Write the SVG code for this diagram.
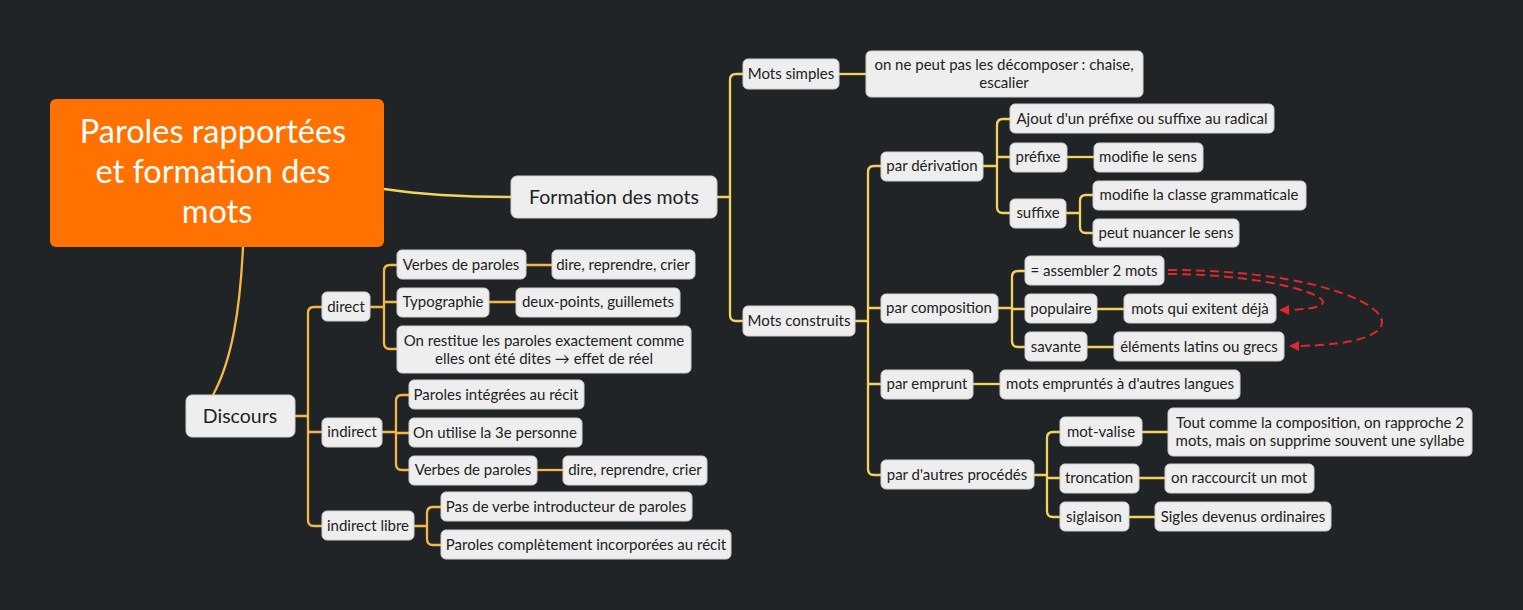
<svg xmlns="http://www.w3.org/2000/svg" width="1523" height="610" viewBox="0 0 1523 610">
<style>
.bg{fill:#202427}
.n{fill:#eeeeee;stroke:#cfcfcf;stroke-width:1}
.t{font-family:Lato,"Open Sans",sans-serif;font-size:15px;fill:#222;text-anchor:middle}
.tb{font-family:Lato,"Open Sans",sans-serif;font-size:19.5px;fill:#222;text-anchor:middle}
.tr{font-family:Lato,"Open Sans",sans-serif;font-size:32.5px;fill:#fff;text-anchor:middle}
.y{fill:none;stroke:#f3d35c;stroke-width:2.3}
.o{fill:none;stroke:#f4b748;stroke-width:2.3}
.d{fill:none;stroke:#e0282a;stroke-width:2;stroke-dasharray:9 5}
</style>
<defs>
<marker id="ah" viewBox="0 0 10 10" refX="9" refY="5" markerWidth="5" markerHeight="5" orient="auto"><path d="M0,0 L10,5 L0,10 z" fill="#e0282a"/></marker>
</defs>
<rect class="bg" x="0" y="0" width="1523" height="610"/>
<g id="connectors">
<path class="y" d="M384,189 C430,196 470,197 511,197"/>
<path class="o" d="M243,247 C240,310 232,360 213,395"/>
<path class="y" d="M717,197 H730 M743,74 H736 Q730,74 730,80 V315 Q730,321 736,321 H743"/>
<path class="y" d="M839,74 H866"/>
<path class="y" d="M855,321 H868 M881,166 H874 Q868,166 868,172 V469 Q868,475 874,475 H881 M868,308 H881 M868,384 H881"/>
<path class="y" d="M983,166 H997 M1010,119 H1003 Q997,119 997,125 V207 Q997,213 1003,213 H1010 M997,157 H1010"/>
<path class="y" d="M1067,157 H1094"/>
<path class="y" d="M1066,213 H1080 M1093,195 H1086 Q1080,195 1080,201 V227 Q1080,233 1086,233 H1093"/>
<path class="y" d="M998,308 H1012 M1025,271 H1018 Q1012,271 1012,277 V341 Q1012,347 1018,347 H1025 M1012,309 H1025"/>
<path class="y" d="M1097,309 H1124 M1087,347 H1114"/>
<path class="y" d="M973,384 H1000"/>
<path class="y" d="M1034,475 H1047 M1060,432 H1053 Q1047,432 1047,438 V511 Q1047,517 1053,517 H1060 M1047,478 H1060"/>
<path class="y" d="M1142,432 H1168 M1139,478 H1165 M1129,517 H1155"/>
<path class="o" d="M295,416 H308 M322,307 H314 Q308,307 308,313 V520 Q308,526 314,526 H322 M308,432 H322"/>
<path class="o" d="M370,307 H384 M397,265 H390 Q384,265 384,271 V343 Q384,349 390,349 H397 M384,302 H397"/>
<path class="o" d="M526,265 H552 M489,302 H516"/>
<path class="o" d="M382,432 H396 M409,395 H402 Q396,395 396,401 V464 Q396,470 402,470 H409 M396,433 H409"/>
<path class="o" d="M537,470 H563"/>
<path class="o" d="M414,526 H427 M441,507 H433 Q427,507 427,513 V539 Q427,545 433,545 H441"/>
<path class="d" marker-end="url(#ah)" d="M1168,274 C1290,274 1380,310 1280,310"/>
<path class="d" marker-end="url(#ah)" d="M1168,270 C1380,270 1460,346 1290,346"/>
</g>
<g id="root"><rect x="50" y="99" width="334" height="148" rx="6" fill="#ff7100"/>
<text class="tr" x="213" y="143">Paroles rapportées</text><text class="tr" x="213" y="183">et formation des</text><text class="tr" x="217" y="223">mots</text></g>
<g id="formation"><rect class="n" x="511" y="176" width="206" height="42" rx="6"/><text class="tb" x="614" y="204">Formation des mots</text></g>
<g id="discours"><rect class="n" x="186" y="395" width="109" height="42" rx="6"/><text class="tb" x="240" y="423">Discours</text></g>
<g id="mots-simples"><rect class="n" x="743" y="59" width="96" height="30" rx="5"/><text class="t" x="791" y="79">Mots simples</text></g>
<g id="decomposer"><rect class="n" x="866" y="51" width="277" height="46" rx="5"/><text class="t" x="1004" y="70">on ne peut pas les décomposer : chaise,</text><text class="t" x="1004" y="88">escalier</text></g>
<g id="mots-construits"><rect class="n" x="743" y="306" width="112" height="30" rx="5"/><text class="t" x="799" y="326">Mots construits</text></g>
<g id="derivation"><rect class="n" x="881" y="152" width="102" height="29" rx="5"/><text class="t" x="932" y="171">par dérivation</text></g>
<g id="ajout"><rect class="n" x="1010" y="104" width="264" height="29" rx="5"/><text class="t" x="1142" y="124">Ajout d'un préfixe ou suffixe au radical</text></g>
<g id="prefixe"><rect class="n" x="1010" y="143" width="57" height="29" rx="5"/><text class="t" x="1038" y="162">préfixe</text></g>
<g id="modifie-sens"><rect class="n" x="1094" y="143" width="109" height="29" rx="5"/><text class="t" x="1148" y="162">modifie le sens</text></g>
<g id="suffixe"><rect class="n" x="1010" y="199" width="56" height="29" rx="5"/><text class="t" x="1038" y="218">suffixe</text></g>
<g id="modifie-classe"><rect class="n" x="1093" y="181" width="213" height="29" rx="5"/><text class="t" x="1199" y="200">modifie la classe grammaticale</text></g>
<g id="nuancer"><rect class="n" x="1093" y="219" width="146" height="28" rx="5"/><text class="t" x="1166" y="238">peut nuancer le sens</text></g>
<g id="composition"><rect class="n" x="881" y="294" width="117" height="29" rx="5"/><text class="t" x="939" y="313">par composition</text></g>
<g id="assembler"><rect class="n" x="1025" y="256" width="139" height="29" rx="5"/><text class="t" x="1094" y="276">= assembler 2 mots</text></g>
<g id="populaire"><rect class="n" x="1025" y="294" width="72" height="29" rx="5"/><text class="t" x="1061" y="314">populaire</text></g>
<g id="exitent"><rect class="n" x="1124" y="294" width="152" height="29" rx="5"/><text class="t" x="1200" y="314">mots qui exitent déjà</text></g>
<g id="savante"><rect class="n" x="1025" y="332" width="62" height="29" rx="5"/><text class="t" x="1056" y="352">savante</text></g>
<g id="latins"><rect class="n" x="1114" y="332" width="170" height="29" rx="5"/><text class="t" x="1199" y="352">éléments latins ou grecs</text></g>
<g id="emprunt"><rect class="n" x="881" y="370" width="92" height="29" rx="5"/><text class="t" x="927" y="389">par emprunt</text></g>
<g id="empruntes"><rect class="n" x="1000" y="370" width="240" height="29" rx="5"/><text class="t" x="1120" y="389">mots empruntés à d'autres langues</text></g>
<g id="autres"><rect class="n" x="881" y="460" width="153" height="29" rx="5"/><text class="t" x="957" y="480">par d'autres procédés</text></g>
<g id="mot-valise"><rect class="n" x="1060" y="417" width="82" height="29" rx="5"/><text class="t" x="1101" y="437">mot-valise</text></g>
<g id="tout-comme"><rect class="n" x="1168" y="408" width="304" height="48" rx="5"/><text class="t" x="1320" y="428">Tout comme la composition, on rapproche 2</text><text class="t" x="1320" y="446">mots, mais on supprime souvent une syllabe</text></g>
<g id="troncation"><rect class="n" x="1060" y="464" width="79" height="29" rx="5"/><text class="t" x="1099" y="483">troncation</text></g>
<g id="raccourcit"><rect class="n" x="1165" y="464" width="149" height="29" rx="5"/><text class="t" x="1239" y="483">on raccourcit un mot</text></g>
<g id="siglaison"><rect class="n" x="1060" y="502" width="69" height="29" rx="5"/><text class="t" x="1094" y="522">siglaison</text></g>
<g id="sigles"><rect class="n" x="1155" y="502" width="176" height="29" rx="5"/><text class="t" x="1243" y="522">Sigles devenus ordinaires</text></g>
<g id="direct"><rect class="n" x="322" y="292" width="48" height="29" rx="5"/><text class="t" x="346" y="312">direct</text></g>
<g id="verbes1"><rect class="n" x="397" y="250" width="129" height="29" rx="5"/><text class="t" x="461" y="270">Verbes de paroles</text></g>
<g id="dire1"><rect class="n" x="552" y="250" width="143" height="29" rx="5"/><text class="t" x="623" y="270">dire, reprendre, crier</text></g>
<g id="typographie"><rect class="n" x="397" y="288" width="92" height="29" rx="5"/><text class="t" x="443" y="307">Typographie</text></g>
<g id="deux-points"><rect class="n" x="516" y="288" width="164" height="29" rx="5"/><text class="t" x="598" y="307">deux-points, guillemets</text></g>
<g id="restitue"><rect class="n" x="397" y="326" width="294" height="47" rx="5"/><text class="t" x="544" y="346">On restitue les paroles exactement comme</text><text class="t" x="544" y="364">elles ont été dites → effet de réel</text></g>
<g id="indirect"><rect class="n" x="322" y="418" width="60" height="29" rx="5"/><text class="t" x="352" y="437">indirect</text></g>
<g id="integrees"><rect class="n" x="409" y="380" width="175" height="29" rx="5"/><text class="t" x="496" y="400">Paroles intégrées au récit</text></g>
<g id="personne"><rect class="n" x="409" y="418" width="173" height="29" rx="5"/><text class="t" x="495" y="438">On utilise la 3e personne</text></g>
<g id="verbes2"><rect class="n" x="409" y="456" width="128" height="29" rx="5"/><text class="t" x="473" y="475">Verbes de paroles</text></g>
<g id="dire2"><rect class="n" x="563" y="456" width="144" height="29" rx="5"/><text class="t" x="635" y="475">dire, reprendre, crier</text></g>
<g id="indirect-libre"><rect class="n" x="322" y="511" width="92" height="29" rx="5"/><text class="t" x="368" y="531">indirect libre</text></g>
<g id="pas-de-verbe"><rect class="n" x="441" y="492" width="251" height="29" rx="5"/><text class="t" x="566" y="512">Pas de verbe introducteur de paroles</text></g>
<g id="incorporees"><rect class="n" x="441" y="530" width="290" height="29" rx="5"/><text class="t" x="586" y="550">Paroles complètement incorporées au récit</text></g>
</svg>
